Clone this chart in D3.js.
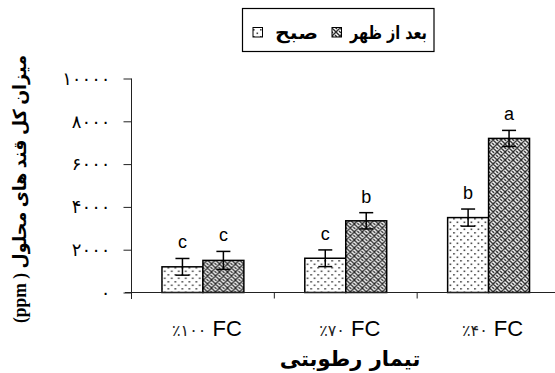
<!DOCTYPE html>
<html>
<head>
<meta charset="utf-8">
<script src="https://cdn.jsdelivr.net/npm/d3@7"></script>
<style>
  html, body { margin: 0; padding: 0; background: #fff; }
  svg { display: block; }
</style>
</head>
<body>
<svg id="chart" width="555" height="373"></svg>
<script>
// Moisture treatments (x categories) and the two sampling times
const categories = ["٪۱۰۰ FC", "٪۷۰ FC", "٪۴۰ FC"];
const catNumbers = ["٪۱۰۰", "٪۷۰", "٪۴۰"];
const seriesKeys = ["morning", "afternoon"];
const seriesNames = ["صبح", "بعد از ظهر"];

// Total soluble sugars (ppm)
const morningValues = [1200, 1600, 3500];
const afternoonValues = [1500, 3350, 7200];
const morningErrors = [390, 390, 400];
const afternoonErrors = [420, 380, 375];
const morningLetters = ["c", "c", "b"];
const afternoonLetters = ["c", "b", "a"];

const yTicks = [0, 2000, 4000, 6000, 8000, 10000];

const toPersian = n => String(n).replace(/\d/g, c => "۰۱۲۳۴۵۶۷۸۹"[+c]);

const svg = d3.select("#chart");
const defs = svg.append("defs");

// dotted fill
const dots = defs.append("pattern").attr("id", "dots")
  .attr("patternUnits", "userSpaceOnUse").attr("width", 7).attr("height", 7);
dots.append("rect").attr("width", 7).attr("height", 7).attr("fill", "#fff");
dots.append("rect").attr("x", 1).attr("y", 1).attr("width", 1.6).attr("height", 1.6).attr("fill", "#444");
dots.append("rect").attr("x", 4.5).attr("y", 4.5).attr("width", 1.6).attr("height", 1.6).attr("fill", "#444");

// woven fill
const weave = defs.append("pattern").attr("id", "weave")
  .attr("patternUnits", "userSpaceOnUse").attr("width", 8).attr("height", 8);
weave.append("rect").attr("width", 8).attr("height", 8).attr("fill", "#fff");
weave.append("path")
  .attr("d", "M0,0 L4,4 L8,0 M0,8 L4,4 L8,8 M-1,3 L1,5 M7,3 L9,5 M3,-1 L5,1 M3,7 L5,9")
  .attr("stroke", "#2a2a2a").attr("stroke-width", 1.4).attr("fill", "none");

const fills = { morning: "url(#dots)", afternoon: "url(#weave)" };

// scales
const x = d3.scaleBand().domain(categories).range([131.5, 560]).paddingInner(0).paddingOuter(0);
const xs = d3.scaleBand().domain(seriesKeys).range([0, x.bandwidth()]).paddingInner(0).paddingOuter(0.744);
const y = d3.scaleLinear().domain([0, 10000]).range([292.5, 78.5]);

const rows = categories.map((c, i) => ({
  cat: c,
  bars: [
    { key: "morning", value: morningValues[i], err: morningErrors[i], letter: morningLetters[i] },
    { key: "afternoon", value: afternoonValues[i], err: afternoonErrors[i], letter: afternoonLetters[i] }
  ]
}));

// y axis
const yAxis = d3.axisLeft(y).tickValues(yTicks).tickSize(8).tickSizeOuter(0).tickFormat(toPersian);
const gy = svg.append("g").attr("transform", "translate(131.5,0)").call(yAxis);
gy.select(".domain").remove();
gy.selectAll(".tick line").attr("stroke", "#222");
gy.selectAll(".tick text")
  .attr("x", -21)
  .attr("font-family", "DejaVu Sans")
  .attr("font-size", 18)
  .attr("fill", "#000");
svg.append("line")
  .attr("x1", 131.5).attr("x2", 131.5)
  .attr("y1", y(10000)).attr("y2", 299)
  .attr("stroke", "#222");

// bars
const groups = svg.append("g").selectAll("g").data(rows).join("g")
  .attr("transform", d => `translate(${x(d.cat)},0)`);

groups.selectAll("rect").data(d => d.bars).join("rect")
  .attr("x", d => xs(d.key))
  .attr("y", d => y(d.value))
  .attr("width", xs.bandwidth())
  .attr("height", d => y(0) - y(d.value))
  .attr("fill", d => fills[d.key])
  .attr("stroke", "#000")
  .attr("stroke-width", 1.5);

// error bars
const eb = groups.selectAll("g.err").data(d => d.bars).join("g").attr("class", "err");
eb.append("line")
  .attr("x1", d => xs(d.key) + xs.bandwidth() / 2)
  .attr("x2", d => xs(d.key) + xs.bandwidth() / 2)
  .attr("y1", d => y(d.value + d.err))
  .attr("y2", d => y(d.value - d.err))
  .attr("stroke", "#000").attr("stroke-width", 1.5);
eb.selectAll("line.cap").data(d => [
  { b: d, v: d.value + d.err }, { b: d, v: d.value - d.err }
]).join("line").attr("class", "cap")
  .attr("x1", d => xs(d.b.key) + xs.bandwidth() / 2 - 7)
  .attr("x2", d => xs(d.b.key) + xs.bandwidth() / 2 + 7)
  .attr("y1", d => y(d.v)).attr("y2", d => y(d.v))
  .attr("stroke", "#000").attr("stroke-width", 1.5);

// significance letters
groups.selectAll("text.letter").data(d => d.bars).join("text").attr("class", "letter")
  .attr("x", d => xs(d.key) + xs.bandwidth() / 2)
  .attr("y", d => y(d.value + d.err) - 10)
  .attr("text-anchor", "middle")
  .attr("font-family", "Liberation Sans, Arial, sans-serif")
  .attr("font-size", 18)
  .text(d => d.letter);

// x axis
svg.append("line")
  .attr("x1", 125).attr("x2", 555)
  .attr("y1", y(0)).attr("y2", y(0))
  .attr("stroke", "#222").attr("stroke-width", 1.2);
const xAxis = d3.axisBottom(x).tickSize(0).tickFormat(() => "");
const gx = svg.append("g").attr("transform", `translate(0,${y(0)})`).call(xAxis);
gx.select(".domain").remove();
svg.selectAll("line.cattick").data(categories.slice(1)).join("line").attr("class", "cattick")
  .attr("x1", d => x(d)).attr("x2", d => x(d))
  .attr("y1", y(0)).attr("y2", y(0) + 6)
  .attr("stroke", "#222");

// category labels
const cl = svg.selectAll("text.cat").data(categories).join("text").attr("class", "cat")
  .attr("x", d => x(d) + x.bandwidth() / 2 + 4)
  .attr("y", 336)
  .attr("text-anchor", "middle")
  .attr("direction", "ltr");
cl.append("tspan")
  .attr("font-family", "DejaVu Sans")
  .attr("font-size", 16)
  .attr("fill", "#222")
  .text((d, i) => catNumbers[i]);
cl.append("tspan")
  .attr("font-family", "Liberation Sans, Arial, sans-serif")
  .attr("font-size", 22)
  .text(" FC");

// x title
svg.append("text")
  .attr("x", 350).attr("y", 366)
  .attr("text-anchor", "middle")
  .attr("font-family", "DejaVu Sans")
  .attr("font-weight", "bold")
  .attr("font-size", 21)
  .attr("direction", "rtl")
  .text("تیمار رطوبتی");

// y title
svg.append("text")
  .attr("transform", "translate(26,189) rotate(-90)")
  .attr("text-anchor", "middle")
  .attr("font-family", "Liberation Serif, DejaVu Sans")
  .attr("font-weight", "bold")
  .attr("font-size", 18)
  .attr("direction", "rtl")
  .attr("textLength", 268)
  .attr("lengthAdjust", "spacingAndGlyphs")
  .text("میزان کل قند های محلول ( ppm)");

// legend
svg.append("rect")
  .attr("x", 242.5).attr("y", 8.5).attr("width", 191.5).attr("height", 43)
  .attr("fill", "#fff").attr("stroke", "#000").attr("stroke-width", 1.2);
const legendItems = [
  { key: "morning", name: seriesNames[0], box: 253, text: 318, w: 43 },
  { key: "afternoon", name: seriesNames[1], box: 332, text: 427, w: 77 }
];
const lg = svg.append("g");
lg.selectAll("rect.sw").data(legendItems).join("rect").attr("class", "sw")
  .attr("x", d => d.box).attr("y", 27.5).attr("width", 9.5).attr("height", 9.5)
  .attr("fill", d => fills[d.key]).attr("stroke", "#000").attr("stroke-width", 1);
lg.selectAll("text").data(legendItems).join("text")
  .attr("x", d => d.text - d.w).attr("y", 39)
  .attr("font-family", "DejaVu Sans")
  .attr("font-weight", "bold")
  .attr("font-size", 18)
  .attr("direction", "ltr")
  .attr("textLength", d => d.w)
  .attr("lengthAdjust", "spacingAndGlyphs")
  .text(d => d.name);
</script>
</body>
</html>
